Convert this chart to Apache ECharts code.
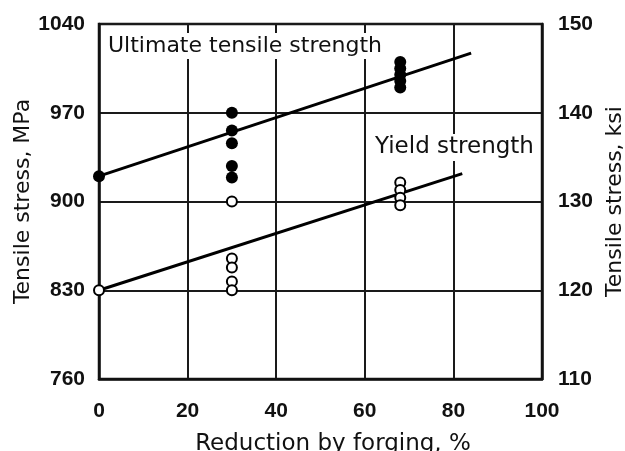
<!DOCTYPE html>
<html><head><meta charset="utf-8">
<script src="https://cdn.jsdelivr.net/npm/echarts@6/dist/echarts.min.js"></script>
<style>html,body{margin:0;padding:0;background:#fff}#c{width:625px;height:451px}</style>
</head><body><div id="c"></div>
<script>
// ---- data ----
const mpaTicks = [760, 830, 900, 970, 1040];
const ksiTicks = [110, 120, 130, 140, 150];
const reductionTicks = [0, 20, 40, 60, 80, 100];
const utsPoints = [[0, 920], [30, 970], [30, 956], [30, 946], [30, 928], [30, 919],
  [68, 1010], [68, 1005], [68, 1000], [68, 995], [68, 990]];
const yieldPoints = [[0, 830], [30, 900], [30, 855], [30, 848], [30, 837], [30, 830],
  [68, 915], [68, 909], [68, 903], [68, 897]];
const utsFit = [[0, 920], [84, 1017]];
const yieldFit = [[0, 830], [82, 922]];
const utsLabel = 'Ultimate tensile strength';
const yieldLabel = 'Yield strength';

const tickFont = {fontFamily: 'Liberation Sans Narrow, Liberation Sans, Arial', fontWeight: 'bold', fontSize: 21, color: '#111', formatter: v => String(v)};
const titleFont = {fontFamily: 'DejaVu Sans', fontSize: 22, color: '#111'};
const gridLine = {color: '#1a1a1a', width: 2};

const chart = echarts.init(document.getElementById('c'));
chart.setOption({
  animation: false,
  backgroundColor: '#fff',
  grid: {left: 99, right: 83, top: 24, bottom: 72, outerBoundsMode: 'none', containLabel: false, show: true, borderColor: '#111', borderWidth: 2.5, backgroundColor: 'transparent'},
  xAxis: {
    type: 'value', min: reductionTicks[0], max: reductionTicks[reductionTicks.length - 1], interval: reductionTicks[1] - reductionTicks[0],
    axisLine: {show: true, lineStyle: {color: '#111', width: 2.5}},
    axisTick: {show: false},
    splitLine: {show: true, lineStyle: gridLine},
    axisLabel: Object.assign({margin: 22}, tickFont),
    name: 'Reduction by forging, %', nameLocation: 'middle', nameGap: 54, nameMoveOverlap: false,
    nameTextStyle: Object.assign({padding: [0, 0, 0, 25]}, titleFont, {fontSize: 23})
  },
  yAxis: [{
    type: 'value', position: 'left', min: mpaTicks[0], max: mpaTicks[mpaTicks.length - 1],
    axisLine: {show: true, lineStyle: {color: '#111', width: 2.5}},
    axisTick: {show: false},
    splitLine: {show: false},
    axisLabel: Object.assign({margin: 14, customValues: mpaTicks}, tickFont),
    name: 'Tensile stress, MPa', nameLocation: 'middle', nameGap: 65, nameRotate: 90, nameMoveOverlap: false,
    nameTextStyle: titleFont
  }, {
    type: 'value', position: 'right', min: ksiTicks[0], max: ksiTicks[ksiTicks.length - 1], interval: ksiTicks[1] - ksiTicks[0],
    axisLine: {show: true, lineStyle: {color: '#111', width: 2.5}},
    axisTick: {show: false},
    splitLine: {show: true, lineStyle: gridLine},
    axisLabel: Object.assign({margin: 16}, tickFont),
    name: 'Tensile stress, ksi', nameLocation: 'middle', nameGap: 62, nameRotate: 90, nameMoveOverlap: false,
    nameTextStyle: titleFont
  }],
  graphic: [
    {type: 'text', left: 106, top: 33, z: 1, style: {text: utsLabel, font: '22px DejaVu Sans', fill: '#111', backgroundColor: '#fff', padding: [2, 2]}},
    {type: 'text', left: 373, top: 134, z: 1, style: {text: yieldLabel, font: '23px DejaVu Sans', fill: '#111', backgroundColor: '#fff', padding: [2, 2]}}
  ],
  series: [
    {type: 'line', yAxisIndex: 0, data: utsFit, symbol: 'none', lineStyle: {color: '#000', width: 3}, z: 3},
    {type: 'line', yAxisIndex: 0, data: yieldFit, symbol: 'none', lineStyle: {color: '#000', width: 3}, z: 3},
    {type: 'scatter', yAxisIndex: 0, data: utsPoints, symbol: 'circle', symbolSize: 12, itemStyle: {color: '#000', opacity: 1}, z: 4},
    {type: 'scatter', yAxisIndex: 0, data: yieldPoints, symbol: 'circle', symbolSize: 10, itemStyle: {color: '#fff', borderColor: '#000', borderWidth: 2, opacity: 1}, z: 5}
  ]
});
</script></body></html>
